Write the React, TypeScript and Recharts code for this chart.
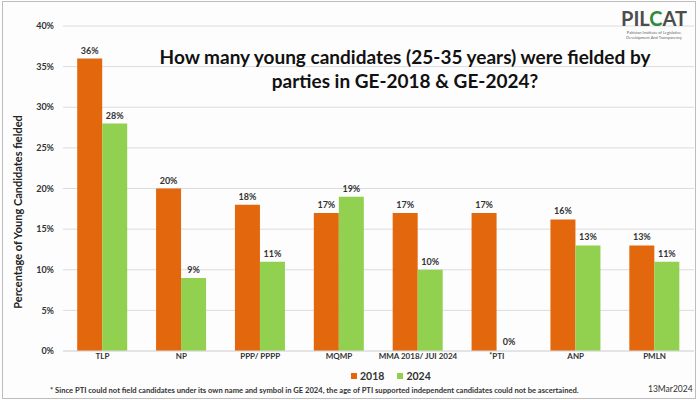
import { Bar, BarChart, CartesianGrid, Cell, LabelList, XAxis, YAxis } from "recharts"

const parties = ["TLP", "NP", "PPP/ PPPP", "MQMP", "MMA 2018/ JUI 2024", "*PTI", "ANP", "PMLN"]
const ge2018 = [36, 20, 18, 17, 17, 17, 16.2, 13]
const ge2024 = [28, 9, 11, 19, 10, 0, 13, 11]
const yTicks = [0, 5, 10, 15, 20, 25, 30, 35, 40]
const seriesNames = ["2018", "2024"]

const data = parties.map((party, i) => ({ party, y2018: ge2018[i], y2024: ge2024[i] }))

const font = "Lato, 'Open Sans', sans-serif"
const ORANGE = "#E3670C"
const GREEN = "#92D050"

function PartyTick({ x, y, payload }: any) {
  const star = payload.value.startsWith("*")
  const name = star ? payload.value.slice(1) : payload.value
  return (
    <text x={x} y={y} dy="0.71em" textAnchor="middle" fontSize={8} fontWeight={700} fill="#333" fontFamily={font}>
      {star && (
        <tspan fontSize={7} dy="-0.2em">
          *
        </tspan>
      )}
      <tspan dy={star ? "0.2em" : 0}>{name}</tspan>
    </text>
  )
}

function ValueLabel({ x, y, width, value }: any) {
  return (
    <text x={x + width / 2} y={y - 5} textAnchor="middle" fontSize={9} fontWeight={700} fill="#333" fontFamily={font}>
      {`${Math.round(value)}%`}
    </text>
  )
}

export default function App() {
  return (
    <div style={{ position: "absolute", left: 0, top: 0, width: 700, height: 400, background: "#fdfdfd", fontFamily: font }}>
      <div style={{ position: "absolute", left: 2, top: 1, width: 692, height: 396, border: "1px solid #bdbdbd" }} />
      <BarChart
        width={700}
        height={400}
        data={data}
        margin={{ top: 26, right: 6, left: 8, bottom: 29 }}
        barCategoryGap="18%"
        barGap={0}
      >
        <CartesianGrid vertical={false} stroke="#dcdcdc" />
        <XAxis
          dataKey="party"
          height={20}
          interval={0}
          tickLine={false}
          axisLine={{ stroke: "#dcdcdc" }}
          tickSize={0}
          tickMargin={8}
          tick={<PartyTick />}
        />
        <YAxis
          width={55}
          domain={[0, 40]}
          ticks={yTicks}
          interval={0}
          axisLine={false}
          tickLine={false}
          tickSize={0}
          tickMargin={9}
          tickFormatter={(v) => `${v}%`}
          tick={{ fontSize: 9, fontWeight: 700, fill: "#333", fontFamily: font }}
        />
        <Bar dataKey="y2018" name="2018" fill={ORANGE} isAnimationActive={false}>
          <LabelList dataKey="y2018" content={<ValueLabel />} />
        </Bar>
        {/* minPointSize keeps the 0% bar so its label is drawn; the stub is left unfilled */}
        <Bar dataKey="y2024" name="2024" fill={GREEN} minPointSize={1} isAnimationActive={false}>
          {ge2024.map((v, i) => (
            <Cell key={i} fill={v === 0 ? "transparent" : GREEN} />
          ))}
          <LabelList dataKey="y2024" content={<ValueLabel />} />
        </Bar>
      </BarChart>

      <div
        style={{
          position: "absolute",
          left: 351,
          top: 369,
          display: "flex",
          gap: 13,
          fontSize: 10.5,
          fontWeight: 700,
          color: "#333",
          lineHeight: "14px",
        }}
      >
        {seriesNames.map((name, i) => (
          <span key={name} style={{ display: "flex", alignItems: "center", gap: 3 }}>
            <span style={{ width: 6, height: 6, background: i === 0 ? ORANGE : GREEN, display: "inline-block" }} />
            {name}
          </span>
        ))}
      </div>

      <div
        style={{
          position: "absolute",
          left: 105,
          top: 45,
          width: 600,
          textAlign: "center",
          fontSize: 19,
          fontWeight: 700,
          lineHeight: "24px",
          color: "#111",
        }}
      >
        How many young candidates (25-35 years) were fielded by
        <br />
        parties in GE-2018 &amp; GE-2024?
      </div>

      <div
        style={{
          position: "absolute",
          left: 17,
          top: 212,
          transform: "translate(-50%, -50%) rotate(-90deg)",
          whiteSpace: "nowrap",
          fontSize: 11,
          fontWeight: 700,
          color: "#222",
        }}
      >
        Percentage of Young Candidates fielded
      </div>

      <div style={{ position: "absolute", left: 620, top: 8, width: 68, textAlign: "center", color: "#4d4d4d" }}>
        <div style={{ fontSize: 20, fontWeight: 700, lineHeight: "21px" }}>
          PIL<span style={{ color: "#2e8b3a" }}>C</span>AT
        </div>
        <div style={{ fontSize: 4, lineHeight: "5px", color: "#666", marginTop: 1 }}>
          Pakistan Institute of Legislative
          <br />
          Development And Transparency
        </div>
      </div>

      <div style={{ position: "absolute", left: 50, top: 385, fontSize: 7.6, fontWeight: 700, color: "#333", whiteSpace: "nowrap" }}>
        * Since PTI could not field candidates under its own name and symbol in GE 2024, the age of PTI supported independent candidates could not be ascertained.
      </div>
      <div style={{ position: "absolute", left: 648, top: 384, fontSize: 8.5, color: "#333", whiteSpace: "nowrap" }}>
        13Mar2024
      </div>
    </div>
  )
}
